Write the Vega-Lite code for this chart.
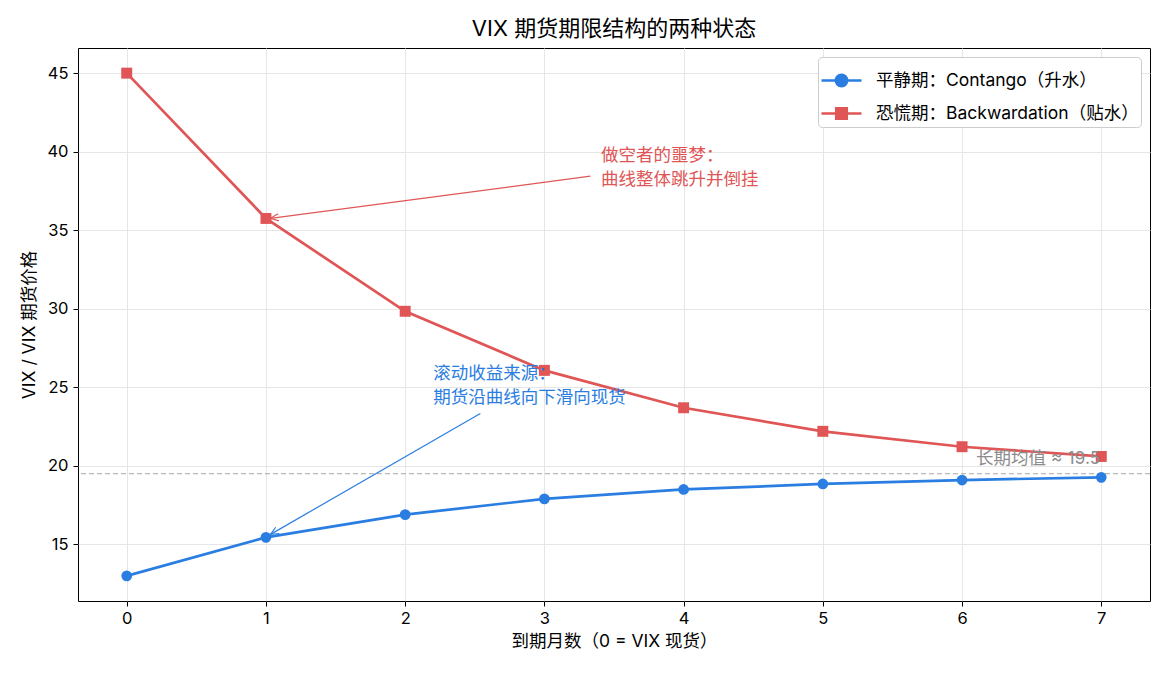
{
  "$schema": "https://vega.github.io/schema/vega-lite/v6.json",
  "width": 1072,
  "height": 553,
  "autosize": {"type": "none"},
  "padding": {"left": 78, "top": 48, "right": 20, "bottom": 75},
  "background": "white",
  "config": {
    "font": "Inter, Noto Sans CJK SC",
    "view": {"stroke": "black", "strokeWidth": 1},
    "axis": {
      "domain": false,
      "gridColor": "#e6e6e6",
      "gridWidth": 1,
      "tickColor": "black",
      "tickSize": 5,
      "labelColor": "black",
      "labelFontSize": 16.5,
      "labelFont": "Inter, Noto Sans CJK SC",
      "titleFontSize": 17.5,
      "titleFontWeight": "normal",
      "titleColor": "black",
      "titleFont": "Inter, Noto Sans CJK SC"
    }
  },
  "title": {
    "text": "VIX 期货期限结构的两种状态",
    "fontSize": 22,
    "fontWeight": "normal",
    "font": "Inter, Noto Sans CJK SC",
    "color": "black",
    "anchor": "middle",
    "offset": 7
  },
  "datasets": {
    "curves": [
      {"month": 0, "price": 13.0, "series": "平静期：Contango（升水）"},
      {"month": 1, "price": 15.45, "series": "平静期：Contango（升水）"},
      {"month": 2, "price": 16.9, "series": "平静期：Contango（升水）"},
      {"month": 3, "price": 17.9, "series": "平静期：Contango（升水）"},
      {"month": 4, "price": 18.5, "series": "平静期：Contango（升水）"},
      {"month": 5, "price": 18.85, "series": "平静期：Contango（升水）"},
      {"month": 6, "price": 19.1, "series": "平静期：Contango（升水）"},
      {"month": 7, "price": 19.27, "series": "平静期：Contango（升水）"},
      {"month": 0, "price": 45.0, "series": "恐慌期：Backwardation（贴水）"},
      {"month": 1, "price": 35.75, "series": "恐慌期：Backwardation（贴水）"},
      {"month": 2, "price": 29.84, "series": "恐慌期：Backwardation（贴水）"},
      {"month": 3, "price": 26.08, "series": "恐慌期：Backwardation（贴水）"},
      {"month": 4, "price": 23.7, "series": "恐慌期：Backwardation（贴水）"},
      {"month": 5, "price": 22.2, "series": "恐慌期：Backwardation（贴水）"},
      {"month": 6, "price": 21.22, "series": "恐慌期：Backwardation（贴水）"},
      {"month": 7, "price": 20.6, "series": "恐慌期：Backwardation（贴水）"}
    ],
    "arrows": [
      {"kind": "red", "x": 3.33, "y": 38.44, "x2": 1.033, "y2": 35.76},
      {"kind": "blue", "x": 2.54, "y": 23.34, "x2": 1.033, "y2": 15.64}
    ],
    "notes": [
      {"kind": "red", "x": 3.407, "y": 39.7, "text": "做空者的噩梦：\n曲线整体跳升并倒挂"},
      {"kind": "blue", "x": 2.202, "y": 25.83, "text": "滚动收益来源：\n期货沿曲线向下滑向现货"},
      {"kind": "gray", "x": 6.1, "y": 20.45, "text": "长期均值 ≈ 19.5"}
    ],
    "mean": [{"value": 19.5}]
  },
  "layer": [
    {
      "data": {"name": "mean"},
      "mark": {"type": "rule", "color": "#a6a6a6", "strokeWidth": 1.2, "strokeDash": [5, 3]},
      "encoding": {
        "y": {"field": "value", "type": "quantitative", "scale": {"domain": [11.4, 46.6], "nice": false, "zero": false}}
      }
    },
    {
      "data": {"name": "curves"},
      "mark": {"type": "line", "strokeWidth": 2.7},
      "encoding": {
        "x": {
          "field": "month", "type": "quantitative",
          "scale": {"domain": [-0.35, 7.35], "nice": false, "zero": false},
          "axis": {"values": [0, 1, 2, 3, 4, 5, 6, 7], "format": "d", "title": "到期月数（0 = VIX 现货）", "labelPadding": 4, "titlePadding": 6}
        },
        "y": {
          "field": "price", "type": "quantitative",
          "scale": {"domain": [11.4, 46.6], "nice": false, "zero": false},
          "axis": {"values": [15, 20, 25, 30, 35, 40, 45], "title": "VIX / VIX 期货价格", "labelPadding": 5, "titlePadding": 8}
        },
        "color": {
          "field": "series", "type": "nominal",
          "scale": {"domain": ["平静期：Contango（升水）", "恐慌期：Backwardation（贴水）"], "range": ["#2a7de1", "#e05555"]},
          "legend": {
            "title": null,
            "orient": "top-right",
            "offset": 9,
            "fillColor": "white",
            "strokeColor": "#cccccc",
            "cornerRadius": 4,
            "padding": 2,
            "labelFontSize": 17.5,
            "labelFont": "Inter, Noto Sans CJK SC",
            "labelColor": "black",
            "labelOffset": 13,
            "labelLimit": 500,
            "rowPadding": -10,
            "symbolSize": 1600,
            "encode": {
              "symbols": {
                "update": {
                  "shape": {"signal": "datum.value === '平静期：Contango（升水）' ? 'M-1,0L1,0M0.28,0A0.28,0.28 0 1,1 -0.28,0A0.28,0.28 0 1,1 0.28,0Z' : 'M-1,0L1,0M-0.26,-0.26L0.26,-0.26L0.26,0.26L-0.26,0.26Z'"},
                  "fill": {"signal": "datum.value === '平静期：Contango（升水）' ? '#2a7de1' : '#e05555'"},
                  "stroke": {"signal": "datum.value === '平静期：Contango（升水）' ? '#2a7de1' : '#e05555'"},
                  "strokeWidth": {"value": 2.7},
                  "opacity": {"value": 1},
                  "fillOpacity": {"value": 1}
                }
              }
            }
          }
        }
      }
    },
    {
      "data": {"name": "curves"},
      "transform": [{"filter": "datum.series === '平静期：Contango（升水）'"}],
      "mark": {"type": "point", "shape": "circle", "filled": true, "opacity": 1, "size": 115, "color": "#2a7de1"},
      "encoding": {
        "x": {"field": "month", "type": "quantitative"},
        "y": {"field": "price", "type": "quantitative"}
      }
    },
    {
      "data": {"name": "curves"},
      "transform": [{"filter": "datum.series === '恐慌期：Backwardation（贴水）'"}],
      "mark": {"type": "point", "shape": "square", "filled": true, "opacity": 1, "size": 120, "color": "#e05555"},
      "encoding": {
        "x": {"field": "month", "type": "quantitative"},
        "y": {"field": "price", "type": "quantitative"}
      }
    },
    {
      "data": {"name": "arrows"},
      "transform": [{"filter": "datum.kind === 'red'"}],
      "mark": {"type": "rule", "color": "#e05555", "strokeWidth": 1.2},
      "encoding": {
        "x": {"field": "x", "type": "quantitative"},
        "y": {"field": "y", "type": "quantitative"},
        "x2": {"field": "x2"},
        "y2": {"field": "y2"}
      }
    },
    {
      "data": {"name": "arrows"},
      "transform": [{"filter": "datum.kind === 'red'"}],
      "mark": {"type": "point", "shape": "M-1,-0.45L0,0L-1,0.45", "filled": false, "stroke": "#e05555", "strokeWidth": 1.2, "size": 256, "angle": 172.5, "opacity": 1},
      "encoding": {
        "x": {"field": "x2", "type": "quantitative"},
        "y": {"field": "y2", "type": "quantitative"}
      }
    },
    {
      "data": {"name": "arrows"},
      "transform": [{"filter": "datum.kind === 'blue'"}],
      "mark": {"type": "rule", "color": "#2a7de1", "strokeWidth": 1.2},
      "encoding": {
        "x": {"field": "x", "type": "quantitative"},
        "y": {"field": "y", "type": "quantitative"},
        "x2": {"field": "x2"},
        "y2": {"field": "y2"}
      }
    },
    {
      "data": {"name": "arrows"},
      "transform": [{"filter": "datum.kind === 'blue'"}],
      "mark": {"type": "point", "shape": "M-1,-0.45L0,0L-1,0.45", "filled": false, "stroke": "#2a7de1", "strokeWidth": 1.2, "size": 256, "angle": 150, "opacity": 1},
      "encoding": {
        "x": {"field": "x2", "type": "quantitative"},
        "y": {"field": "y2", "type": "quantitative"}
      }
    },
    {
      "data": {"name": "notes"},
      "transform": [{"filter": "datum.kind === 'red'"}],
      "mark": {"type": "text", "align": "left", "baseline": "middle", "fontSize": 17.5, "lineHeight": 24, "lineBreak": "\n", "color": "#e05555", "font": "Inter, Noto Sans CJK SC"},
      "encoding": {
        "x": {"field": "x", "type": "quantitative"},
        "y": {"field": "y", "type": "quantitative"},
        "text": {"field": "text"}
      }
    },
    {
      "data": {"name": "notes"},
      "transform": [{"filter": "datum.kind === 'blue'"}],
      "mark": {"type": "text", "align": "left", "baseline": "middle", "fontSize": 17.5, "lineHeight": 24, "lineBreak": "\n", "color": "#2a7de1", "font": "Inter, Noto Sans CJK SC"},
      "encoding": {
        "x": {"field": "x", "type": "quantitative"},
        "y": {"field": "y", "type": "quantitative"},
        "text": {"field": "text"}
      }
    },
    {
      "data": {"name": "notes"},
      "transform": [{"filter": "datum.kind === 'gray'"}],
      "mark": {"type": "text", "align": "left", "baseline": "middle", "fontSize": 17.5, "color": "#8c8c8c", "font": "Inter, Noto Sans CJK SC"},
      "encoding": {
        "x": {"field": "x", "type": "quantitative"},
        "y": {"field": "y", "type": "quantitative"},
        "text": {"field": "text"}
      }
    }
  ]
}
